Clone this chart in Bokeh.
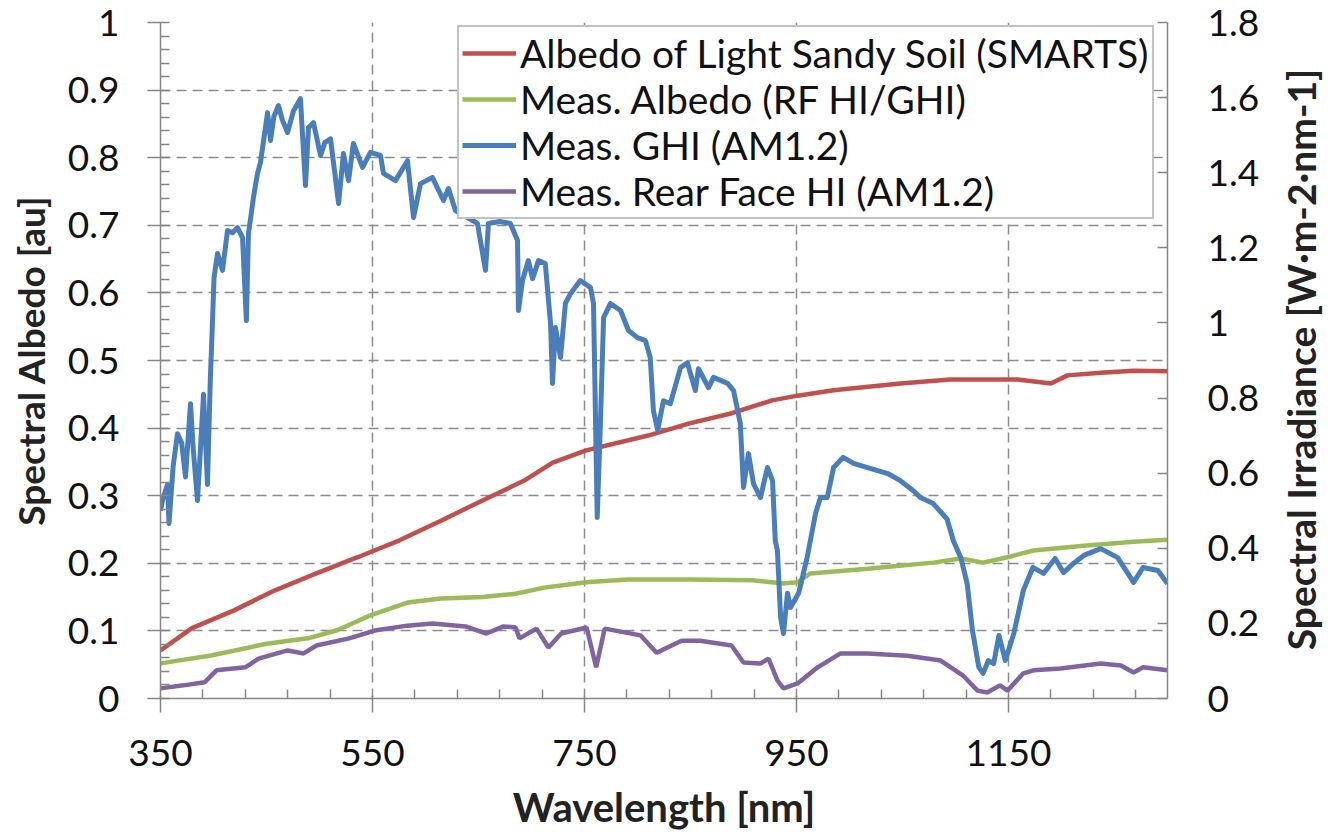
from bokeh.plotting import figure
from bokeh.layouts import row
from bokeh.models import (Range1d, LinearAxis, FixedTicker, CustomJSTickFormatter,
                          Legend, LegendItem, Label)
from bokeh.embed import file_html
from bokeh.resources import INLINE

# ---------------- data ----------------
x_ticks = [350, 550, 750, 950, 1150]
x_minor = [390, 430, 470, 510, 590, 630, 670, 710, 790, 830, 870, 910,
           990, 1030, 1070, 1110, 1190, 1230, 1270]
left_ticks = [0, 0.1, 0.2, 0.3, 0.4, 0.5, 0.6, 0.7, 0.8, 0.9, 1]
left_minor = [round(i * 0.02, 2) for i in range(51)]
right_ticks = [0, 0.2, 0.4, 0.6, 0.8, 1, 1.2, 1.4, 1.6, 1.8]

series_names = ["Albedo of Light Sandy Soil (SMARTS)", "Meas. Albedo (RF HI/GHI)",
                "Meas. GHI (AM1.2)", "Meas. Rear Face HI (AM1.2)"]
x_title = "Wavelength [nm]"
left_title = "Spectral Albedo [au]"
right_title = "Spectral Irradiance [W·m-2·nm-1]"

smarts_nm = [350, 379.7, 418.9, 458, 497, 536, 575.5, 614.6, 653.8, 692.8, 720,
             751.6, 810, 849, 889, 927, 951, 985, 1048, 1095, 1158.5, 1190,
             1205.7, 1237, 1268, 1300]
smarts_alb = [0.071, 0.104, 0.130, 0.160, 0.185, 0.209, 0.234, 0.263, 0.293, 0.322,
              0.349, 0.367, 0.389, 0.407, 0.422, 0.441, 0.448, 0.456, 0.466, 0.472,
              0.472, 0.466, 0.478, 0.482, 0.485, 0.484]

meas_alb_nm = [350, 399, 450, 489, 516.7, 548, 583, 614.6, 653.8, 685, 712, 751.6,
               790.6, 849, 908.5, 937.7, 951, 963, 1017, 1079, 1105, 1126, 1149,
               1173.6, 1221, 1268, 1300]
meas_alb = [0.052, 0.064, 0.081, 0.089, 0.101, 0.123, 0.142, 0.148, 0.150, 0.155,
            0.164, 0.172, 0.176, 0.176, 0.175, 0.170, 0.172, 0.185, 0.192, 0.201,
            0.207, 0.201, 0.209, 0.219, 0.226, 0.232, 0.235]

ghi_nm = [350, 352, 356.6, 358, 362, 366, 370, 373.6, 378.3, 381, 384.9, 390.6,
          394.3, 397, 399, 400.5, 403.8, 408.5, 413.2, 418, 422.6, 427.4, 431, 433,
          437.7, 441.5, 444.3, 451, 453.8, 457, 461.3, 465, 469.8, 475.5, 482, 486.8,
          489.6, 494.3, 501, 505, 510.4, 518, 522.6, 527.4, 532, 540.6, 548, 557.5,
          560.4, 571.7, 583, 588.7, 595.3, 606.6, 617, 621.7, 628.3, 640, 649, 656.6,
          659.4, 670, 680, 686.8, 687.7, 691.5, 697, 701, 706.6, 713, 718, 719.8,
          722.6, 727.4, 732, 736.8, 746, 755.7, 758.5, 762, 765, 768, 774.5, 784,
          791.5, 800, 807.5, 812, 815, 819, 824.5, 831, 840.6, 847, 854.6, 857.5,
          867, 871.7, 885, 890.6, 897, 900, 904.7, 909.4, 916, 922.6, 927.4, 930,
          932, 935, 937.7, 941.5, 944.3, 952, 960, 968, 972.6, 979, 985, 994, 1003.8,
          1017, 1036, 1048, 1060, 1067, 1079, 1092, 1098, 1105, 1111, 1116, 1122,
          1126, 1131, 1136, 1141, 1147, 1155, 1164, 1173, 1183, 1194, 1202, 1211,
          1221, 1237, 1253, 1268, 1277, 1291, 1300]
ghi = [0.50, 0.53, 0.57, 0.466, 0.62, 0.705, 0.68, 0.59, 0.785, 0.66, 0.527, 0.81,
       0.57, 0.85, 1.0, 1.12, 1.185, 1.14, 1.246, 1.24, 1.254, 1.227, 1.006, 1.238,
       1.334, 1.398, 1.427, 1.56, 1.486, 1.55, 1.579, 1.54, 1.507, 1.565, 1.597,
       1.366, 1.52, 1.533, 1.446, 1.48, 1.49, 1.318, 1.451, 1.379, 1.478, 1.414,
       1.454, 1.446, 1.398, 1.379, 1.432, 1.281, 1.371, 1.387, 1.326, 1.358, 1.299,
       1.28, 1.265, 1.14, 1.265, 1.27, 1.265, 1.22, 1.033, 1.113, 1.166, 1.118,
       1.166, 1.158, 0.998, 0.839, 0.988, 0.908, 1.052, 1.078, 1.113, 1.094, 1.052,
       0.482, 0.732, 1.014, 1.052, 1.033, 0.98, 0.961, 0.953, 0.908, 0.767, 0.714,
       0.793, 0.785, 0.881, 0.894, 0.82, 0.878, 0.828, 0.855, 0.839, 0.82, 0.732,
       0.562, 0.652, 0.572, 0.535, 0.615, 0.58, 0.42, 0.394, 0.216, 0.173, 0.28,
       0.242, 0.28, 0.375, 0.493, 0.535, 0.535, 0.615, 0.642, 0.626, 0.615, 0.599,
       0.58, 0.554, 0.535, 0.519, 0.478, 0.42, 0.375, 0.306, 0.181, 0.083, 0.067,
       0.101, 0.093, 0.168, 0.101, 0.173, 0.288, 0.349, 0.333, 0.373, 0.335, 0.359,
       0.381, 0.399, 0.375, 0.309, 0.349, 0.341, 0.306]

rear_nm = [350, 371.7, 391.5, 402.8, 430, 442.5, 470, 485, 497, 528, 552, 583,
           606.6, 637.7, 657.5, 673.6, 685, 688.7, 704.7, 716, 728, 752, 761, 769,
           803, 818, 841.5, 859, 888.7, 900, 916, 923.6, 932, 937.7, 951, 970,
           991.5, 1017, 1054.7, 1086, 1107.5, 1120.8, 1130, 1142, 1149, 1164,
           1173.6, 1199, 1237, 1256, 1268, 1277, 1300]
rear = [0.027, 0.035, 0.043, 0.075, 0.083, 0.106, 0.128, 0.12, 0.141, 0.160, 0.181,
        0.194, 0.2, 0.192, 0.173, 0.192, 0.189, 0.160, 0.186, 0.136, 0.173, 0.189,
        0.083, 0.186, 0.168, 0.122, 0.154, 0.154, 0.141, 0.096, 0.093, 0.106, 0.048,
        0.027, 0.040, 0.083, 0.12, 0.12, 0.114, 0.101, 0.06, 0.021, 0.016, 0.035,
        0.021, 0.067, 0.075, 0.08, 0.093, 0.088, 0.069, 0.083, 0.075]

colors = ["#C0504D", "#9BBB59", "#4A7EBB", "#8064A2"]

# ---------------- figure ----------------
FONT = "Lato"
FW, FH = 1007, 676
TOP, BOTTOM, LEFT, RIGHT = 22, 134, 160, 113
TOTAL_H = TOP + FH + BOTTOM
p = figure(output_backend="svg", toolbar_location=None,
           frame_width=FW, frame_height=FH,
           min_border_left=LEFT, min_border_right=RIGHT,
           min_border_top=TOP, min_border_bottom=BOTTOM,
           x_range=Range1d(350, 1300), y_range=Range1d(0, 1),
           outline_line_color=None, background_fill_color="white",
           border_fill_color="white", y_axis_location=None, x_axis_location=None)
p.extra_y_ranges = {"irr": Range1d(0, 1.8)}

fmt = CustomJSTickFormatter(code="return String(Number(tick.toFixed(2)));")

xaxis = LinearAxis(ticker=FixedTicker(ticks=x_ticks, minor_ticks=x_minor),
                   axis_label=x_title)
yaxis = LinearAxis(ticker=FixedTicker(ticks=left_ticks, minor_ticks=left_minor),
                   formatter=fmt, axis_label=left_title)
raxis = LinearAxis(y_range_name="irr", ticker=FixedTicker(ticks=right_ticks, minor_ticks=[]),
                   formatter=fmt)
p.add_layout(xaxis, "below")
p.add_layout(yaxis, "left")
p.add_layout(raxis, "right")

for ax in (xaxis, yaxis, raxis):
    ax.axis_line_color = "#868686"
    ax.axis_line_width = 1.5
    ax.major_tick_line_color = "#868686"
    ax.major_tick_line_width = 1.5
    ax.minor_tick_line_color = "#868686"
    ax.minor_tick_line_width = 1.5
    ax.major_label_text_font = FONT
    ax.major_label_text_font_size = "37px"
    ax.major_label_text_color = "#111111"
    ax.axis_label_text_font = FONT
    ax.axis_label_text_font_style = "bold"
    ax.axis_label_text_color = "#222222"

xaxis.axis_label_text_font_size = "40px"
yaxis.axis_label_text_font_size = "37px"

xaxis.major_tick_out = 14
xaxis.major_tick_in = 3
xaxis.minor_tick_in = 9
xaxis.minor_tick_out = 0
xaxis.major_label_standoff = 27
xaxis.axis_label_standoff = 14

yaxis.major_tick_out = 13
yaxis.major_tick_in = 0
yaxis.minor_tick_in = 9
yaxis.minor_tick_out = 0
yaxis.major_label_standoff = 28
yaxis.axis_label_standoff = 12

raxis.major_tick_out = 0
raxis.major_tick_in = 10
raxis.minor_tick_in = 0
raxis.minor_tick_out = 0
raxis.major_label_standoff = 40

p.xgrid.ticker = FixedTicker(ticks=x_ticks)
p.ygrid.ticker = FixedTicker(ticks=left_ticks)
for g in (p.xgrid, p.ygrid):
    g.grid_line_color = "#8C8C8C"
    g.grid_line_width = 1.5
    g.grid_line_dash = "10 6"

r1 = p.line(smarts_nm, smarts_alb, line_color=colors[0], line_width=4.5)
r2 = p.line(meas_alb_nm, meas_alb, line_color=colors[1], line_width=4.5)
r3 = p.line(ghi_nm, ghi, line_color=colors[2], line_width=5, y_range_name="irr",
            line_join="round")
r4 = p.line(rear_nm, rear, line_color=colors[3], line_width=4.5, y_range_name="irr")

legend = Legend(items=[LegendItem(label=series_names[i], renderers=[r])
                       for i, r in enumerate([r1, r2, r3, r4])],
                location=(297, 479), margin=0, padding=3, spacing=0,
                glyph_width=54, glyph_height=36, label_height=36,
                label_standoff=4, label_text_font=FONT,
                label_text_font_size="39px",
                label_text_color="#111111",
                border_line_color="#868686", border_line_width=2,
                background_fill_alpha=1.0)
p.add_layout(legend, "center")

# narrow strip on the right that carries the right-axis title (bottom-to-top)
STRIP_W = 60
p2 = figure(output_backend="svg", toolbar_location=None,
            width=STRIP_W, height=TOTAL_H, min_border=0,
            x_axis_location=None, y_axis_location=None,
            outline_line_color=None, background_fill_color="white",
            border_fill_color="white", x_range=Range1d(0, 1), y_range=Range1d(0, 1))
p2.xgrid.visible = False
p2.ygrid.visible = False
p2.add_layout(Label(x=20, y=FH / 2, x_units="screen", y_units="screen",
                    text=right_title, angle=90, angle_units="deg",
                    text_align="center", text_baseline="middle",
                    text_font=FONT, text_font_style="bold", text_font_size="39px",
                    text_color="#222222"))

layout = row(p, p2, spacing=0)
open("out.html", "w").write(file_html(layout, INLINE))
